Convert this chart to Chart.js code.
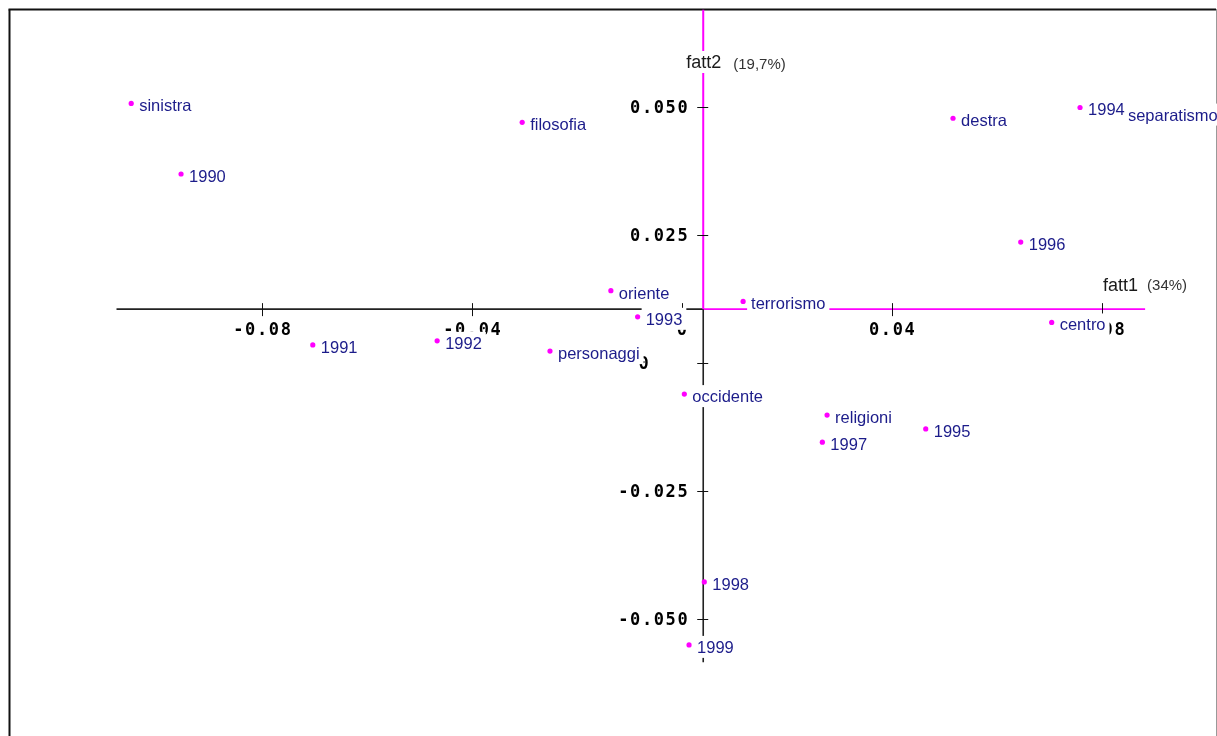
<!DOCTYPE html>
<html>
<head>
<meta charset="utf-8">
<title>fatt1 / fatt2</title>
<script src="https://cdn.jsdelivr.net/npm/chart.js@4.4.1/dist/chart.umd.min.js"></script>
<style>
  html, body { margin: 0; padding: 0; background: #fff; }
  #wrap { width: 1217px; height: 736px; }
</style>
</head>
<body>
<div id="wrap"><canvas id="plot" width="1217" height="736"></canvas></div>
<script>
// labels drawn in this order (1994 after separatismo, its box hides that dot)
const pointNames = ['sinistra', '1990', 'filosofia', 'oriente', 'personaggi', '1991', '1992', '1993',
  'terrorismo', 'occidente', 'destra', 'separatismo', '1994', '1996', 'centro', 'religioni',
  '1997', '1995', '1998', '1999'];
const fatt1Values = [-0.1049, -0.0954, -0.0304, -0.0135, -0.0251, -0.0703, -0.0466, -0.0084,
  0.0117, 0.0005, 0.0517, 0.0835, 0.0759, 0.0646, 0.0705, 0.0277,
  0.0268, 0.0465, 0.0043, 0.0014];
const fatt2Values = [0.0507, 0.0369, 0.0470, 0.0141, 0.0023, 0.0035, 0.0043, 0.0090,
  0.0120, -0.0061, 0.0478, 0.0489, 0.0499, 0.0236, 0.0079, -0.0102,
  -0.0155, -0.0129, -0.0428, -0.0551];

const xTickValues = [-0.08, -0.04, 0, 0.04, 0.08];
const xTickLabels = ['-0.08', '-0.04', '0', '0.04', '0.08'];
const yTickValues = [0.05, 0.025, 0, -0.025, -0.05];
const yTickLabels = ['0.050', '0.025', '0', '-0.025', '-0.050'];

const xTitle = ['fatt1', '(34%)'];
const yTitle = ['fatt2', '(19,7%)'];

// where the two axes cross and how far they run
const axisCross = { x: 0.0041, y: 0.0105 };
const hAxisRange = [-0.1077, 0.0883];
const vAxisRange = [0.0690, -0.0585];

const MAGENTA = '#ff00ff';
const LABEL_COLOR = '#1c1c8a';

function line(ctx, x0, y0, x1, y1, color) {
  ctx.strokeStyle = color;
  ctx.beginPath();
  ctx.moveTo(x0, y0);
  ctx.lineTo(x1, y1);
  ctx.stroke();
}

function boxedText(ctx, text, left, base, color) {
  const w = ctx.measureText(text).width;
  ctx.fillStyle = '#fff';
  ctx.fillRect(left - 4, base - 17, w + 8, 22);
  ctx.fillStyle = color;
  ctx.fillText(text, left, base);
}

const crossAxes = {
  id: 'crossAxes',
  beforeDatasetsDraw(chart) {
    const { ctx, scales: { x, y } } = chart;
    const vx = x.getPixelForValue(axisCross.x);
    const hy = y.getPixelForValue(axisCross.y);
    ctx.save();

    // frame
    ctx.lineWidth = 2;
    line(ctx, 9.5, 737, 9.5, 9.5, '#111');
    line(ctx, 8.5, 9.5, 1216, 9.5, '#111');
    ctx.lineWidth = 1;
    line(ctx, 1216.5, 9, 1216.5, 737, '#999');

    // axes: positive halves magenta, the rest black
    const hx0 = x.getPixelForValue(hAxisRange[0]);
    const hx1 = x.getPixelForValue(hAxisRange[1]);
    const vy0 = y.getPixelForValue(vAxisRange[0]);
    const vy1 = y.getPixelForValue(vAxisRange[1]);
    ctx.lineWidth = 1.6;
    line(ctx, hx0, hy, vx, hy, '#222');
    line(ctx, vx, hy, hx1, hy, MAGENTA);
    ctx.lineWidth = 2;
    line(ctx, vx, vy0, vx, hy, MAGENTA);
    ctx.lineWidth = 1.6;
    line(ctx, vx, hy, vx, vy1, '#222');

    // tick marks
    ctx.lineWidth = 1;
    xTickValues.forEach(v => {
      const px = Math.round(x.getPixelForValue(v)) + 0.5;
      line(ctx, px, hy - 6, px, hy + 7, '#111');
    });
    yTickValues.forEach(v => {
      const py = Math.round(y.getPixelForValue(v)) + 0.5;
      line(ctx, vx - 6, py, vx + 5, py, '#111');
    });

    // tick labels
    ctx.font = 'bold 17px "DejaVu Sans Mono"';
    ctx.letterSpacing = '1.6px';
    ctx.fillStyle = '#000';
    ctx.textBaseline = 'alphabetic';
    ctx.textAlign = 'center';
    xTickValues.forEach((v, i) => {
      ctx.fillText(xTickLabels[i], x.getPixelForValue(v) + 1, hy + 26);
    });
    ctx.textAlign = 'right';
    yTickValues.forEach((v, i) => {
      const right = v === 0 ? vx - 53 : vx - 14;
      ctx.fillText(yTickLabels[i], right, y.getPixelForValue(v) + 6.5);
    });

    // axis titles
    ctx.letterSpacing = '0px';
    ctx.textAlign = 'left';
    ctx.font = '18px "Liberation Sans"';
    const ty = 68;
    boxedText(ctx, yTitle[0], vx - 17, ty, '#1a1a1a');
    ctx.font = '15px "Liberation Sans"';
    ctx.fillStyle = '#333';
    ctx.fillText(yTitle[1], vx + 30, ty + 1);
    const fx = x.getPixelForValue(0.08) + 1.5;
    ctx.font = '18px "Liberation Sans"';
    ctx.fillStyle = '#1a1a1a';
    ctx.fillText(xTitle[0], fx, hy - 18);
    ctx.font = '15px "Liberation Sans"';
    ctx.fillStyle = '#333';
    ctx.fillText(xTitle[1], fx + 44, hy - 19);
    ctx.restore();
  },
  afterDatasetsDraw(chart) {
    const { ctx, scales: { x, y } } = chart;
    ctx.save();
    ctx.font = '16.5px "Liberation Sans"';
    ctx.textAlign = 'left';
    ctx.textBaseline = 'alphabetic';
    pointNames.forEach((name, i) => {
      const left = x.getPixelForValue(fatt1Values[i]) + 8;
      const base = y.getPixelForValue(fatt2Values[i]) + 8;
      boxedText(ctx, name, left, base, LABEL_COLOR);
    });
    ctx.restore();
  }
};

new Chart(document.getElementById('plot'), {
  type: 'scatter',
  data: {
    labels: pointNames,
    datasets: [{
      data: pointNames.map((n, i) => ({ x: fatt1Values[i], y: fatt2Values[i] })),
      backgroundColor: MAGENTA,
      borderWidth: 0,
      pointRadius: 2.6,
      pointHoverRadius: 2.6
    }]
  },
  options: {
    responsive: false,
    animation: false,
    events: [],
    layout: { padding: 0, autoPadding: false },
    scales: {
      x: { type: 'linear', display: false, min: -0.1299, max: 0.1020 },
      y: { type: 'linear', display: false, min: -0.0729, max: 0.0709 }
    },
    plugins: {
      legend: { display: false },
      tooltip: { enabled: false }
    }
  },
  plugins: [crossAxes]
});
</script>
</body>
</html>
